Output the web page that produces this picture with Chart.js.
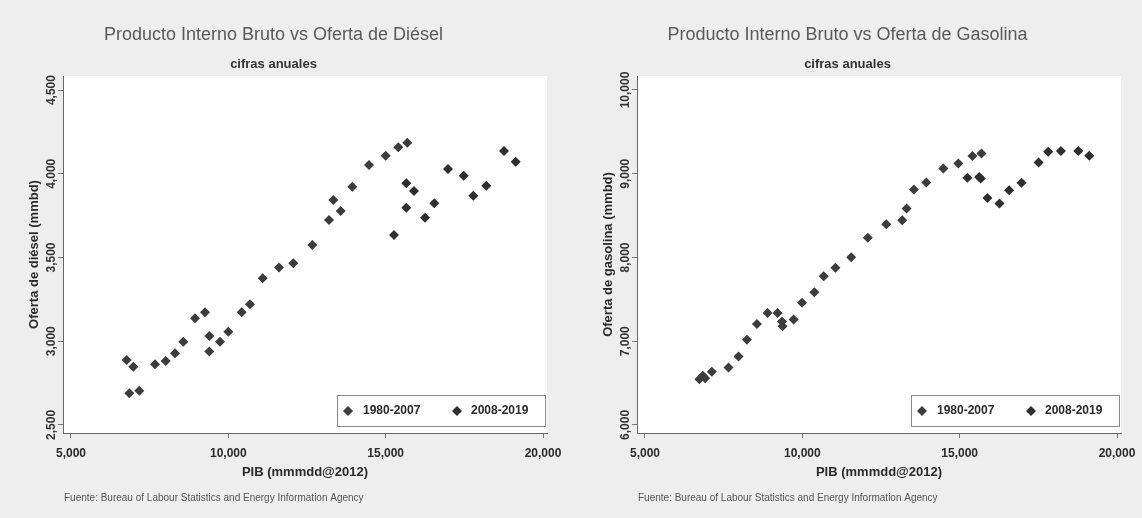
<!DOCTYPE html>
<html><head><meta charset="utf-8">
<script src="https://cdn.jsdelivr.net/npm/chart.js@4.4.1/dist/chart.umd.min.js"></script>
<style>
html,body{margin:0;padding:0;width:1142px;height:518px;overflow:hidden;background:#eeeeee;}
.panel{position:absolute;top:0;width:614px;height:518px;}
</style></head><body>
<div class="panel" style="left:0"><canvas id="c1" width="614" height="518"></canvas></div>
<div class="panel" style="left:574px"><canvas id="c2" width="614" height="518"></canvas></div>
<script>
// ---------- data ----------
const seriesLabels = ['1980-2007', '2008-2019'];
const pibTicks = [5000, 10000, 15000, 20000];
const dieselTicks = [2500, 3000, 3500, 4000, 4500];
const gasTicks = [6000, 7000, 8000, 9000, 10000];

const dieselPibA = [6770, 6980, 6853, 7171, 7670, 8010, 8305, 8569, 8941, 9259, 9395, 9735, 9999, 9395,
  10425, 10689, 11092, 11610, 12065, 12669, 13199, 13571, 13336, 13940, 14471, 15001, 15402, 15688];
const dieselOfertaA = [2888, 2848, 2689, 2705, 2862, 2882, 2928, 2997, 3137, 3173, 3031, 2997, 3057, 2938,
  3173, 3221, 3376, 3441, 3465, 3575, 3724, 3778, 3843, 3923, 4052, 4108, 4158, 4185];
const dieselPibB = [15656, 15265, 15656, 15901, 16250, 16546, 16981, 17480, 17785, 18199, 18761, 19132];
const dieselOfertaB = [3943, 3634, 3797, 3897, 3738, 3824, 4028, 3988, 3869, 3929, 4136, 4072];

const gasPibA = [6729, 6911, 6838, 7124, 7653, 7972, 8239, 8558, 8895, 9214, 9353, 9372, 9723, 9991,
  10383, 10679, 11052, 11552, 12081, 12667, 13176, 13313, 13546, 13940, 14482, 14959, 15405, 15692];
const gasOfertaA = [6547, 6559, 6587, 6635, 6686, 6818, 7018, 7206, 7338, 7338, 7234, 7178, 7258, 7458,
  7585, 7777, 7877, 8004, 8237, 8396, 8444, 8584, 8812, 8896, 9063, 9123, 9211, 9243];
const gasPibB = [15670, 15246, 15620, 15883, 16265, 16572, 16966, 17507, 17813, 18218, 18769, 19119];
const gasOfertaB = [8943, 8951, 8960, 8711, 8644, 8803, 8891, 9135, 9262, 9271, 9271, 9214];

const subtitleText = 'cifras anuales';
const xTitleText = 'PIB (mmmdd@2012)';
const sourceNote = 'Fuente: Bureau of Labour Statistics and Energy Information Agency';

// ---------- helpers ----------
const FONT = "'Liberation Sans', Arial, sans-serif";
const fmt = v => String(v).replace(/\B(?=(\d{3})+(?!\d))/g, ',');

const plotBg = {
  id: 'plotBg',
  beforeDraw(chart) {
    const {ctx, chartArea: a} = chart;
    ctx.save(); ctx.fillStyle = '#ffffff';
    ctx.fillRect(a.left, a.top, a.right - a.left, a.bottom - a.top);
    ctx.restore();
  }
};
const legendBox = {
  id: 'legendBox',
  afterDraw(chart) {
    const {ctx, chartArea: a} = chart;
    const w = 209, h = 32;
    const x0 = a.right - 1 - w, y0 = a.bottom - 6 - h;
    ctx.save();
    ctx.fillStyle = '#ffffff'; ctx.fillRect(x0, y0, w, h);
    ctx.strokeStyle = '#8a8a8a'; ctx.lineWidth = 1; ctx.strokeRect(x0 + 0.5, y0 + 0.5, w - 1, h - 1);
    const cy = y0 + h / 2;
    const offs = [[11, 26], [120, 134]];
    chart.data.datasets.forEach((ds, i) => {
      const [mx, tx] = offs[i];
      const r = ds.pointRadius;
      ctx.fillStyle = ds.backgroundColor;
      ctx.beginPath();
      ctx.moveTo(x0 + mx, cy - r); ctx.lineTo(x0 + mx + r, cy);
      ctx.lineTo(x0 + mx, cy + r); ctx.lineTo(x0 + mx - r, cy); ctx.closePath(); ctx.fill();
      ctx.fillStyle = '#2a2a2a'; ctx.font = 'bold 12px ' + FONT;
      ctx.textBaseline = 'middle'; ctx.textAlign = 'left';
      ctx.fillText(ds.label, x0 + tx, cy);
    });
    ctx.restore();
  }
};
const noteText = {
  id: 'noteText',
  afterDraw(chart) {
    const {ctx} = chart;
    ctx.save();
    ctx.font = '10px ' + FONT; ctx.fillStyle = '#555555';
    ctx.textBaseline = 'middle'; ctx.textAlign = 'left';
    ctx.fillText(sourceNote, 64, 498);
    ctx.restore();
  }
};

function makeChart(id, title, yTitle, pibA, ofA, pibB, ofB, yTicks, yMin, yMax, yPad) {
  return new Chart(document.getElementById(id), {
    type: 'scatter',
    data: {
      datasets: [
        { label: seriesLabels[0], data: pibA.map((x, i) => ({x, y: ofA[i]})),
          pointStyle: 'rectRot', pointRadius: 5, backgroundColor: '#3c3c3c', borderColor: '#3c3c3c', borderWidth: 0 },
        { label: seriesLabels[1], data: pibB.map((x, i) => ({x, y: ofB[i]})),
          pointStyle: 'rectRot', pointRadius: 5, backgroundColor: '#2e2e2e', borderColor: '#2e2e2e', borderWidth: 0 }
      ]
    },
    options: {
      responsive: false, animation: false, devicePixelRatio: 1,
      layout: { padding: { left: 0, right: 67, top: 0, bottom: 38 } },
      plugins: {
        legend: { display: false },
        tooltip: { enabled: false },
        title: { display: true, text: title, color: '#5a5a5a',
          font: { family: FONT, size: 18, weight: 'normal' }, padding: { top: 24, bottom: 0 } },
        subtitle: { display: true, text: subtitleText, color: '#333333',
          font: { family: FONT, size: 13, weight: 'bold' }, padding: { top: 10.6, bottom: 4.2 } }
      },
      scales: {
        x: {
          type: 'linear', min: 4746, max: 20127,
          afterBuildTicks: s => { s.ticks = pibTicks.map(v => ({ value: v })); },
          afterFit: s => { s.height = 47; },
          grid: { display: true, drawOnChartArea: false, drawTicks: true, tickLength: 5, color: '#777777', tickColor: '#777777' },
          border: { display: true, color: '#666666', width: 1 },
          ticks: { padding: 8, color: '#2a2a2a', font: { family: FONT, size: 12, weight: 'bold' },
            callback: fmt, minRotation: 0, maxRotation: 0, autoSkip: false },
          title: { display: true, text: xTitleText, color: '#2a2a2a',
            font: { family: FONT, size: 13, weight: 'bold' }, padding: { top: 0, bottom: 0 } }
        },
        y: {
          type: 'linear', min: yMin, max: yMax,
          afterBuildTicks: s => { s.ticks = yTicks.map(v => ({ value: v })); },
          afterFit: s => { s.width = 63; },
          grid: { display: true, drawOnChartArea: false, drawTicks: true, tickLength: 5, color: '#777777', tickColor: '#777777' },
          border: { display: true, color: '#666666', width: 1 },
          ticks: { padding: yPad, crossAlign: 'center', minRotation: 90, maxRotation: 90,
            color: '#333333', font: { family: FONT, size: 12, weight: 'bold' }, callback: fmt, autoSkip: false },
          title: { display: true, text: yTitle, color: '#2a2a2a',
            font: { family: FONT, size: 13, weight: 'bold' }, padding: { top: 27, bottom: 0 } }
        }
      }
    },
    plugins: [plotBg, legendBox, noteText]
  });
}

makeChart('c1', 'Producto Interno Bruto vs Oferta de Diésel', 'Oferta de diésel (mmbd)',
  dieselPibA, dieselOfertaA, dieselPibB, dieselOfertaB, dieselTicks, 2452, 4584, -9);
makeChart('c2', 'Producto Interno Bruto vs Oferta de Gasolina', 'Oferta de gasolina (mmbd)',
  gasPibA, gasOfertaA, gasPibB, gasOfertaB, gasTicks, 5904, 10167, -12);
</script>
</body></html>
